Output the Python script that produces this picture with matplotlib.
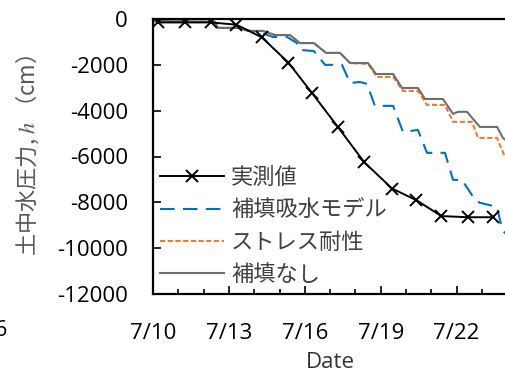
import matplotlib
matplotlib.use('Agg')
import matplotlib.pyplot as plt
from matplotlib.ticker import MultipleLocator, FixedLocator

plt.rcParams['font.family'] = ['Open Sans', 'Noto Sans CJK JP', 'DejaVu Sans']
plt.rcParams['mathtext.fontset'] = 'stix'
plt.rcParams['axes.unicode_minus'] = False

# days after 7/10 00:00
meas_day = [0.2, 1.25, 2.3, 3.3, 4.3, 5.35, 6.3, 7.3, 8.35, 9.45, 10.4, 11.4, 12.45, 13.45]
meas_h = [-150, -150, -150, -250, -800, -1900, -3250, -4700, -6250, -7400, -7900, -8600, -8650, -8650]

none_day = [0, 2.45, 2.57, 3.44, 3.75, 4.35, 4.82, 5.41, 5.81, 6.36, 6.84, 7.39, 7.79, 8.5,
            8.81, 9.49, 9.84, 10.47, 10.75, 11.46, 11.86, 12.06, 12.41, 12.92, 13.6, 13.83, 14.3]
none_h = [-90, -130, -390, -390, -520, -520, -700, -700, -1050, -1050, -1480, -1480, -1920, -1920,
          -2400, -2400, -3010, -3010, -3490, -3490, -4140, -4050, -4050, -4710, -4710, -5190, -5600]

stress_day = [0, 2.45, 2.57, 3.44, 3.75, 4.35, 4.82, 5.41, 5.81, 6.36, 6.84, 7.39, 7.79, 8.5,
              8.85, 9.49, 9.88, 10.47, 10.83, 11.54, 11.86, 12.61, 12.85, 13.6, 13.91, 14.3]
stress_h = [-90, -130, -390, -390, -520, -520, -700, -700, -1050, -1050, -1480, -1480, -1920, -1960,
            -2530, -2530, -3140, -3140, -3750, -3750, -4490, -4490, -5190, -5190, -6020, -6400]

model_day = [0, 2.45, 2.57, 3.44, 3.83, 4.3, 4.74, 5.3, 5.69, 5.81, 6.36, 6.8, 7.47, 7.79, 8.18,
             8.46, 8.77, 9.49, 9.88, 10.47, 10.83, 11.54, 11.86, 12.21, 12.73, 12.92, 13.6, 13.8, 14.3]
model_h = [-90, -130, -390, -390, -520, -610, -785, -785, -1050, -1350, -1400, -2000, -2000, -2790, -2750,
           -2830, -3790, -3790, -4930, -4840, -5840, -5840, -7020, -7020, -7890, -8020, -8200, -9200, -9800]

tick_days = [0, 3, 6, 9, 12]
tick_labels = ['7/10', '7/13', '7/16', '7/19', '7/22']

fig = plt.figure(figsize=(5.06, 3.72), dpi=100)
ax = fig.add_axes([153 / 506, 78 / 372, 14.5 * 25.3 / 506, 275 / 372])

l_model, = ax.plot(model_day, model_h, color='#0070C0', lw=1.5, dashes=(7, 4))
l_stress, = ax.plot(stress_day, stress_h, color='#ED7D31', lw=1.5, dashes=(2.5, 1.2))
l_none, = ax.plot(none_day, none_h, color='#6E6E6E', lw=1.5)
l_meas, = ax.plot(meas_day, meas_h, color='black', lw=1.4, marker='x',
                  markersize=9, markeredgewidth=1.4)

ax.set_xlim(0, 14.5)
ax.set_ylim(-12000, 0)
ax.yaxis.set_major_locator(MultipleLocator(2000))
ax.xaxis.set_major_locator(FixedLocator(tick_days))
ax.xaxis.set_minor_locator(MultipleLocator(1))
ax.set_xticklabels(tick_labels)

for s in ['left', 'bottom', 'top']:
    ax.spines[s].set_linewidth(1.6)
ax.spines['right'].set_visible(False)

ax.tick_params(axis='both', which='both', direction='in', width=1.2, labelsize=16)
ax.tick_params(axis='x', which='major', length=6, pad=21)
ax.tick_params(axis='x', which='minor', length=3.5)
ax.tick_params(axis='y', which='major', length=6, pad=18)

ax.set_xlabel('Date', fontsize=16, color='#333333', va='center')
ax.xaxis.set_label_coords(330 / 506, 1 - 362 / 372, transform=fig.transFigure)
ax.set_ylabel('土中水圧力, $h$ （cm）', fontsize=16, color='#595959',
              family=['Noto Sans CJK JP', 'DejaVu Sans'], va='center')
ax.yaxis.set_label_coords(27 / 506, 1 - 155 / 372, transform=fig.transFigure)

leg = ax.legend([l_meas, l_model, l_stress, l_none],
                ['実測値', '補填吸水モデル', 'ストレス耐性', '補填なし'],
                loc='upper left', bbox_to_anchor=(160 / 506, 1 - 166 / 372),
                bbox_transform=fig.transFigure, frameon=False,
                prop={'family': ['Noto Sans CJK JP'], 'size': 16},
                handlelength=2.9, handletextpad=0.3, labelspacing=0.42,
                borderpad=0, borderaxespad=0)
for t in leg.get_texts():
    t.set_color('#404040')

# tick label of the neighbouring panel, cut by the figure edge
fig.text(7 / 506, 1 - 330 / 372, '7/16', fontsize=16, ha='right', va='center')

fig.savefig('out.png', dpi=100)
